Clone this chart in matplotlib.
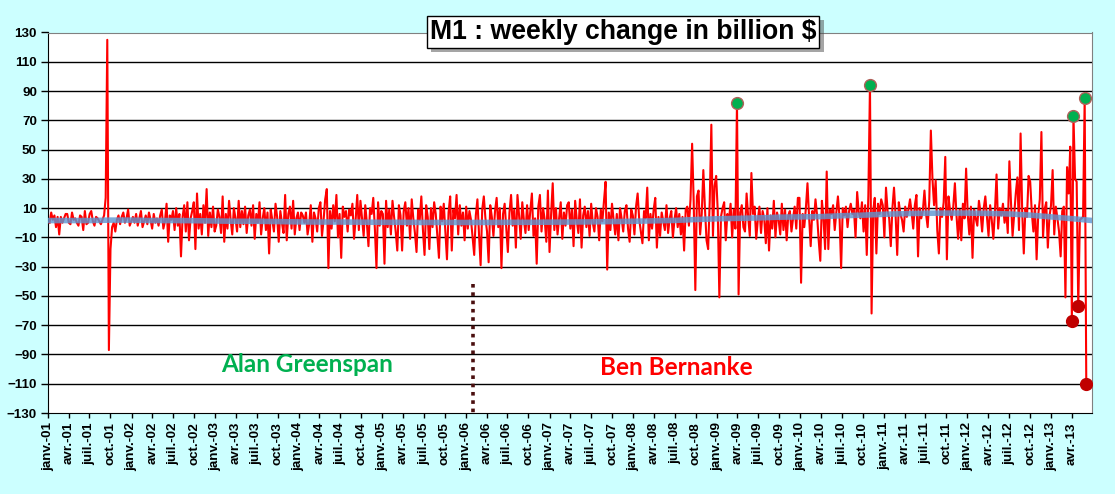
import numpy as np
import pandas as pd
import matplotlib
matplotlib.use("Agg")
import matplotlib.pyplot as plt
import matplotlib.patheffects as pe

# weekly change of M1 in billion $ (one list per year)
chg_2001 = [0, 7, 2, 5, -3, 4, -8, 4, 0, 3, 6, 6, 0, -1, 7, 2, 3, 0, -2, 5,
            4, -5, 8, -1, 0, 6, 8, 1, -2, 4, 3, 1, -1, 2, 5, 17, 125, -87, -18, -3,
            0, -6, 2, 5, -1, 4, 7, 0, 3, 9, -2, 1]
chg_2002 = [4, 0, 6, -2, 3, 8, -3, 1, 5, -1, 7, 2, -4, 6, 0, 3, -2, 5, 9, -4,
            1, 13, -13, 5, 2, 8, -5, 10, -2, 6, -23, 4, 12, -6, 14, -12, 3, 8, 14, -18,
            20, -4, 6, -8, 12, 0, 23, -9, 7, -3, 11, -6]
chg_2003 = [-2, 9, 4, -7, 18, -13, 6, -4, 15, 2, -8, 10, 3, -6, 15, -3, 8, -1, 11, -7,
            5, 9, -2, 12, -11, 6, 0, 14, -8, 3, 10, -5, 7, -21, 9, 2, -6, 13, 4, -13,
            8, 0, -7, 19, -12, 6, 11, -4, 15, -8, 3, 7]
chg_2004 = [-5, 7, 5, 0, 7, -8, -1, 12, -13, 7, 3, -6, 10, 14, -9, 2, 16, 23, -31, 8,
            -4, 12, 1, 19, -10, 6, -24, 11, 4, 8, -6, 9, 5, 13, -11, 2, 19, -5, 15, 3,
            -9, 12, 0, -16, 10, 6, 17, -4, -31, 14, -2, 8]
chg_2005 = [6, -28, 15, -3, 9, -8, 15, 4, -6, -19, 12, 5, -19, 8, 14, -2, 10, -11, 16, 3,
            -7, -20, 9, 2, 18, -5, -22, 12, 4, -18, 10, -3, 14, 6, -9, -24, 11, 1, 13, -6,
            -25, 7, 18, -19, 9, 3, 19, -8, 12, -2, 7, -12]
chg_2006 = [11, -4, 8, 2, -10, -22, 5, 16, -8, -29, 9, 18, 3, -6, -27, 12, 4, -9, 8, 17,
            -3, 10, -31, 6, 13, -4, -20, 7, 19, -2, 9, -17, 19, 5, -11, 14, 2, -7, 12, -5,
            8, 20, -9, 3, -28, 11, 19, -6, 10, 2, -13, 22]
chg_2007 = [-20, 6, 27, -5, 10, -8, 3, 14, -11, 7, -2, 12, 14, -4, 9, -16, 15, 2, -7, 16,
            -17, 5, 11, -3, 8, -9, 13, 0, -6, 10, 4, -12, 9, 1, 15, 28, -32, 7, -5, 13,
            2, -8, 6, -12, 10, 3, -6, 8, 12, -4, -13, 9]
chg_2008 = [5, -8, 11, 20, 2, -6, -14, 8, 3, 24, -12, 6, -4, 9, 17, -17, 4, -9, 7, 1,
            -5, 12, -7, 3, 8, -10, 2, 10, -3, 6, -8, 4, -19, 9, 11, -2, 16, 54, 14, -46,
            18, 22, -8, 6, 36, 10, -12, -18, 15, 67, -9, 25]
chg_2009 = [32, 8, -51, 4, 10, 14, -12, 6, 2, 13, -10, 9, -4, 82, -49, 7, 12, -3, -6, 20,
            4, -9, 34, 6, 11, -11, 2, 11, -7, 8, 3, -14, 10, -19, 5, -4, 15, -10, 7, 2,
            -8, 13, -5, 9, -12, 5, 8, -6, 3, 11, -4, 17]
chg_2010 = [17, -41, 6, -3, 10, 27, 4, -16, 8, 2, 16, 5, -12, -26, 15, 3, -18, 35, -18, 9,
            6, 12, -5, 7, 18, 4, -31, 10, 5, 11, -3, 8, 13, 6, 9, -10, 21, 7, 3, 14,
            -6, 12, -22, 19, 94, -62, 8, 17, -21, 13, 6, 16]
chg_2011 = [12, -10, 24, 8, 3, -16, 10, 24, 5, -22, 14, 6, 2, -6, 11, 4, 9, 16, 7, -4,
            12, 19, -23, 10, 3, 8, 22, 6, -3, 15, 63, 30, 12, 29, -5, -21, 10, 4, 14, 45,
            -25, 18, 8, 2, 11, 27, 5, -11, 9, -12, 13, 3]
chg_2012 = [37, 6, -8, 11, -24, 9, 3, -2, 15, 7, -6, 10, 18, 4, -9, 12, 2, -11, 8, 33,
            -4, 10, 5, 13, 0, 9, -7, 42, 14, -9, 6, 20, 31, -5, 61, 8, -21, 10, 4, 32,
            28, 7, -6, 12, -25, 5, 16, 62, -10, 9, 14, -17]
chg_2013 = [4, 12, 36, -8, 11, 3, -6, -23, 8, 11, -51, 38, 20, 52, -67, 73, 30, 28, -57, 2,
            3, 4, 85, -110]

weekly_change = np.array(chg_2001 + chg_2002 + chg_2003 + chg_2004 + chg_2005 + chg_2006
                         + chg_2007 + chg_2008 + chg_2009 + chg_2010 + chg_2011 + chg_2012
                         + chg_2013, dtype=float)
weeks = pd.date_range("2001-01-08", periods=len(weekly_change), freq="7D")

# blue trend line, read once per quarter
trend = [1.5, 1.5, 1.5, 1.8, 1.8, 1.5, 1.5, 1.4,
         1.2, 1.0, 1.0, 0.8,
         0.6, 0.5, 0.5, 0.4,
         0.3, 0.3, 0.2, 0.2,
         0.2, 0.2, 0.3, 0.3,
         0.4, 0.5, 0.6, 0.8,
         1.0, 1.3, 1.6, 2.2,
         2.7, 3.0, 3.3, 3.8,
         4.0, 4.2, 4.8, 5.2,
         5.8, 6.2, 6.5, 6.6,
         6.6, 6.4, 6.0, 5.2,
         4.0, 2.8, 1.5]
trend_dates = pd.date_range("2001-01-01", periods=len(trend), freq="QS")

# highlighted weeks (indices into weekly_change)
high_weeks = [429, 512, 639, 646]
low_weeks = [638, 642, 647]

month_names = ["janv.", "avr.", "juil.", "oct."]
tick_dates = pd.date_range("2001-01-01", "2013-04-01", freq="QS")
tick_labels = [f"{month_names[(d.month - 1) // 3]}-{d.year % 100:02d}" for d in tick_dates]

greenspan_end = pd.Timestamp("2006-02-01")

plt.rcParams["font.family"] = ["Liberation Sans", "DejaVu Sans"]

fig = plt.figure(figsize=(11.15, 4.94), dpi=100, facecolor="#CCFFFF")
ax = fig.add_axes([48 / 1115, 1 - 413 / 494, 1044 / 1115, 380.5 / 494])
ax.set_facecolor("white")

for y in range(-110, 111, 20):
    ax.axhline(y, color="black", lw=1, zorder=1)

ax.plot(weeks, weekly_change, color="#FF0000", lw=1.5, zorder=3)
ax.plot(trend_dates, trend, color="#5B96D2", lw=4, alpha=0.8, zorder=4,
        solid_capstyle="butt")

ax.plot(weeks[high_weeks], weekly_change[high_weeks], "o", ms=8.5,
        mfc="#00B050", mec="#B0605A", mew=1, zorder=6)
ax.plot(weeks[low_weeks], weekly_change[low_weeks], "o", ms=8.5,
        mfc="#C00000", mec="#C00000", mew=1, zorder=6)

ax.plot([greenspan_end, greenspan_end], [-42, -130], color="#4A0F0F", lw=2.6,
        linestyle=(0, (1, 1.3)), dash_capstyle="butt", zorder=5)

ax.text(pd.Timestamp("2004-02-07"), -97, "Alan Greenspan", color="#00B050",
        fontsize=17.5, fontweight="bold", family=["Lato", "DejaVu Sans"],
        ha="center", va="center", zorder=7)
ax.text(pd.Timestamp("2008-07-10"), -99, "Ben Bernanke", color="#FF0000",
        fontsize=17.5, fontweight="bold", family=["Lato", "DejaVu Sans"],
        ha="center", va="center", zorder=7)

ax.set_ylim(-130, 130)
ax.set_xlim(pd.Timestamp("2001-01-01"), pd.Timestamp("2013-06-28"))
ax.set_yticks(range(-130, 131, 20))
ax.set_xticks(tick_dates)
ax.set_xticklabels(tick_labels, rotation=90)
for lab in ax.get_yticklabels() + ax.get_xticklabels():
    lab.set_fontweight("bold")
    lab.set_fontsize(9.6)
ax.tick_params(axis="y", direction="out", length=5, width=1, pad=3)
ax.tick_params(axis="x", direction="out", length=3.5, width=1, pad=3)

ax.spines["left"].set_color("black")
ax.spines["bottom"].set_color("black")
ax.spines["top"].set_color("#808080")
ax.spines["right"].set_color("#808080")

title = fig.text(0.5587, 1 - 32 / 494, "M1 : weekly change in billion $", fontsize=19.2,
                 fontweight="bold", ha="center", va="center", zorder=10,
                 bbox=dict(boxstyle="square,pad=0.12", fc="white", ec="black", lw=1))
title.get_bbox_patch().set_path_effects([pe.SimplePatchShadow(offset=(3, -3), alpha=0.5),
                                         pe.Normal()])

fig.savefig("out.png", dpi=100, facecolor=fig.get_facecolor())
